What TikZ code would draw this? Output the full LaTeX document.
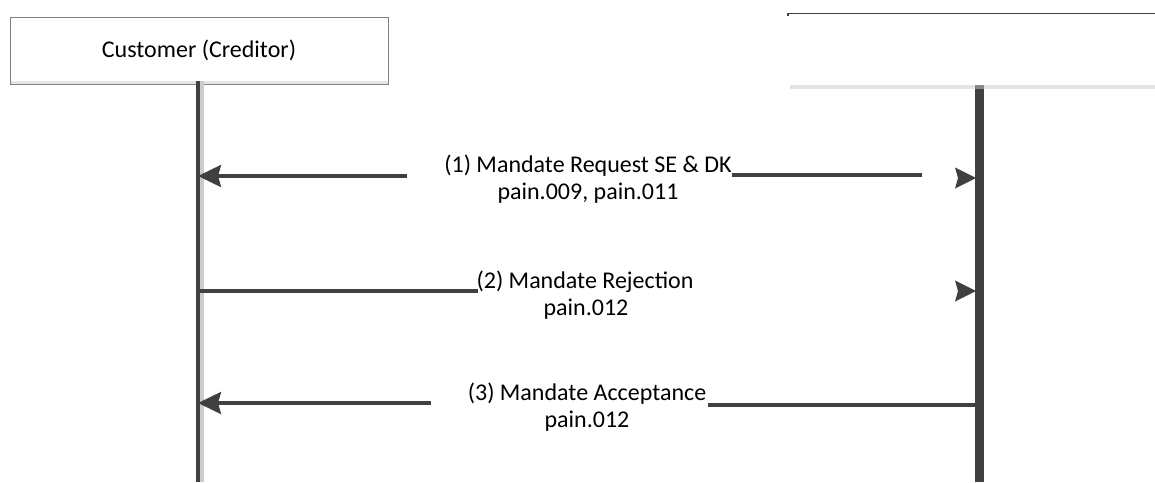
\documentclass[tikz,border=0pt]{standalone}
\usepackage{fontspec}
\setmainfont{Carlito}
\usetikzlibrary{arrows.meta}
\definecolor{ink}{RGB}{64,64,64}
\definecolor{boxline}{RGB}{128,128,128}
\definecolor{band}{RGB}{228,228,228}
\definecolor{lite}{RGB}{204,204,204}
\definecolor{mid}{RGB}{136,136,136}
\begin{document}
\begin{tikzpicture}[x=1pt,y=-1pt,
  lbl/.style={font=\fontsize{24}{28}\selectfont, inner sep=0pt, anchor=base, text=black},
  msg/.style={draw=ink, line width=3.3pt},
  lhead/.style={-{Stealth[length=23pt,width=22pt,inset=3pt]}},
  rhead/.pic={\fill[ink] (0,0) -- (-21,-10.5) -- (-18,0) -- (-21,10.5) -- cycle;}
]
\useasboundingbox (0,0) rectangle (1155,482);
% left participant
\node[draw=boxline, line width=1pt, minimum width=378pt, minimum height=67pt, inner sep=0pt,
      font=\fontsize{24}{28}\selectfont] (cust) at (199,50.5) {Customer (Creditor)};
\fill[band] (11,81) rectangle (387.5,84);
% right participant (cut off)
\draw[ink, line width=1.2pt] (788,16) -- (788,13.5) -- (1155,13.5);
\fill[band] (790,85) rectangle (1155,89);
% lifelines
\fill[lite] (200,81) rectangle (204,482);
\fill[ink] (196,81) rectangle (200,482);
\coordinate (L) at (198,0);
\fill[ink] (975,85) rectangle (984,482);
\fill[mid] (975,85) rectangle (984,89);
\coordinate (R) at (975,0);
% message 1
\node[lbl] (m1t) at (588,172) {(1) Mandate Request SE \& DK};
\node[lbl] (m1b) at (588,199) {pain.009, pain.011};
\coordinate (m1a) at (407,176);
\draw[msg,lhead] (m1a) -- (m1a -| L);
\coordinate (m1r1) at (732,175);
\coordinate (m1r2) at (922,175);
\draw[msg] (m1r1) -- (m1r2);
\pic at (976,178) {rhead};
% message 2
\node[lbl] (m2t) at (585,288) {(2) Mandate Rejection};
\node[lbl] (m2b) at (586,315) {pain.012};
\coordinate (m2a) at (478,291);
\draw[msg] (m2a) -- (m2a -| L);
\pic at (976,291) {rhead};
% message 3
\node[lbl] (m3t) at (587,400) {(3) Mandate Acceptance};
\node[lbl] (m3b) at (587,427) {pain.012};
\coordinate (m3a) at (431,403);
\draw[msg,lhead] (m3a) -- (m3a -| L);
\coordinate (m3r) at (708,405);
\draw[msg] (m3r) -- (m3r -| R);
\end{tikzpicture}
\end{document}
